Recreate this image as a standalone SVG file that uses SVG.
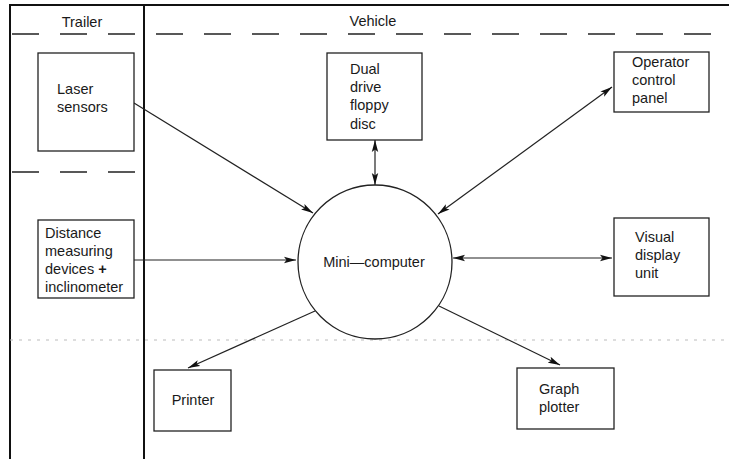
<svg xmlns="http://www.w3.org/2000/svg" width="729" height="459" viewBox="0 0 729 459">
<style>
text{font-family:"Liberation Sans",Arial,sans-serif;font-size:14.5px;fill:#1a1a1a}
.box{fill:#fff;stroke:#222;stroke-width:1.3}
.frame{stroke:#111;stroke-width:2;fill:none}
.dash{stroke:#222;stroke-width:1.3;stroke-dasharray:27 21;fill:none}
.conn{stroke:#222;stroke-width:1.2;fill:none}
.art{stroke:#bbb;stroke-width:1;stroke-dasharray:3 6;fill:none}
</style>
<defs>
<marker id="ah" viewBox="0 0 12 8" refX="12" refY="4" markerWidth="12" markerHeight="8" markerUnits="userSpaceOnUse" orient="auto-start-reverse">
<path d="M0,0.8 L12,4 L0,7.2 L2.5,4 Z" fill="#111"/>
</marker>
</defs>
<rect width="729" height="459" fill="#fff"/>
<g id="frame">
<line class="frame" x1="10" y1="5" x2="729" y2="5"/>
<line class="frame" x1="10" y1="4" x2="10" y2="459"/>
<line class="frame" x1="144" y1="4" x2="144" y2="459"/>
<path class="dash" d="M12,34 H729"/>
<path class="dash" d="M12,172 H140"/>
<line class="art" x1="10" y1="340" x2="729" y2="340"/>
<text x="82" y="27" text-anchor="middle">Trailer</text>
<text x="373" y="26" text-anchor="middle">Vehicle</text>
</g>
<g id="connectors">
<line class="conn" x1="134" y1="103" x2="313" y2="213" marker-end="url(#ah)"/>
<line class="conn" x1="134" y1="260" x2="296" y2="260" marker-end="url(#ah)"/>
<line class="conn" x1="375" y1="140" x2="375" y2="185" marker-start="url(#ah)" marker-end="url(#ah)"/>
<line class="conn" x1="438" y1="214" x2="612" y2="87" marker-start="url(#ah)" marker-end="url(#ah)"/>
<line class="conn" x1="453" y1="258" x2="612" y2="258" marker-start="url(#ah)" marker-end="url(#ah)"/>
<line class="conn" x1="315" y1="311" x2="188" y2="368" marker-end="url(#ah)"/>
<line class="conn" x1="439" y1="306" x2="560" y2="365" marker-end="url(#ah)"/>
</g>
<g id="laser">
<rect class="box" x="38" y="53" width="96" height="98"/>
<text x="57" y="94">Laser</text>
<text x="57" y="112">sensors</text>
</g>
<g id="distance">
<rect class="box" x="38" y="220" width="96" height="78"/>
<text x="45" y="238">Distance</text>
<text x="45" y="256">measuring</text>
<text x="45" y="274">devices <tspan font-weight="bold">+</tspan></text>
<text x="45" y="292">inclinometer</text>
</g>
<g id="floppy">
<rect class="box" x="327" y="53" width="95" height="87"/>
<text x="350" y="74">Dual</text>
<text x="350" y="92">drive</text>
<text x="350" y="110">floppy</text>
<text x="350" y="129">disc</text>
</g>
<g id="operator">
<rect class="box" x="614" y="52" width="95" height="60"/>
<text x="632" y="67">Operator</text>
<text x="632" y="85">control</text>
<text x="632" y="103">panel</text>
</g>
<g id="computer">
<circle cx="375" cy="262" r="77" fill="#fff" stroke="#222" stroke-width="1.3"/>
<text x="374" y="267" text-anchor="middle">Mini—computer</text>
</g>
<g id="vdu">
<rect class="box" x="614" y="218" width="95" height="78"/>
<text x="635" y="242">Visual</text>
<text x="635" y="260">display</text>
<text x="635" y="278">unit</text>
</g>
<g id="printer">
<rect class="box" x="154" y="370" width="77" height="61"/>
<text x="193" y="405" text-anchor="middle">Printer</text>
</g>
<g id="plotter">
<rect class="box" x="517" y="368" width="97" height="61"/>
<text x="539" y="394">Graph</text>
<text x="539" y="412">plotter</text>
</g>
</svg>
